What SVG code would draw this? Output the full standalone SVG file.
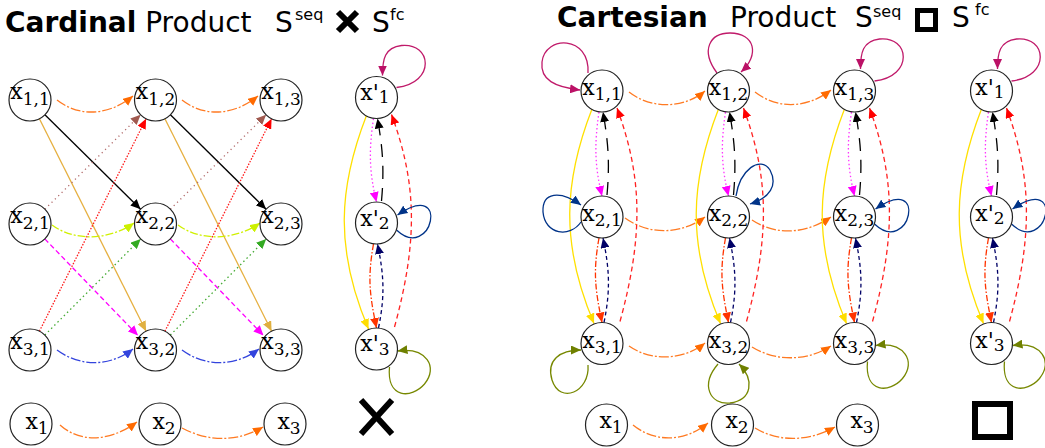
<svg xmlns="http://www.w3.org/2000/svg" width="1045" height="448" viewBox="0 0 1045 448">
<defs>
<style>
.t{font-family:"DejaVu Sans",sans-serif;fill:#000}
.b{font-weight:bold}
.n circle{fill:#fff;stroke:#222;stroke-width:1.2}
.n text{font-family:"DejaVu Serif","Liberation Serif",serif;font-size:22px;fill:#000;text-anchor:middle}
.n tspan.s{font-size:17px}
.e path{fill:none;stroke-width:1.3}
.or{stroke:#ff7a22;stroke-dasharray:10,2,2,2}
.bk{stroke:#000}
.gd{stroke:#e6b040}
.br{stroke:#b06868;stroke-dasharray:1.2,3.5}
.rd{stroke:#ff1a1a;stroke-dasharray:1.5,1.5}
.yg{stroke:#d0f000;stroke-dasharray:8,2,2,2}
.mg{stroke:#ff00ff;stroke-dasharray:5,3}
.gr{stroke:#44aa33;stroke-dasharray:1.5,3}
.bl{stroke:#3344dd;stroke-dasharray:10,2,2,2}
.vr{stroke:#c01a6a}
.ye{stroke:#ffe000}
.md{stroke:#ff33ff;stroke-dasharray:1.5,2.5}
.bd{stroke:#000;stroke-dasharray:13,9}
.rs{stroke:#ff2222;stroke-dasharray:5,3.5}
.nv{stroke:#003388}
.dn{stroke:#000066;stroke-dasharray:4,3}
.od{stroke:#ff3300;stroke-dasharray:6,2,1.5,2}
.ol{stroke:#778800}
</style>
<marker id="a-or" viewBox="0 0 10 9" refX="10" refY="4.5" markerWidth="10" markerHeight="9" markerUnits="userSpaceOnUse" orient="auto"><path d="M0,0L10,4.5L0,9z" fill="#ff6a00"/></marker>
<marker id="a-bk" viewBox="0 0 10 9" refX="10" refY="4.5" markerWidth="10" markerHeight="9" markerUnits="userSpaceOnUse" orient="auto"><path d="M0,0L10,4.5L0,9z" fill="#000"/></marker>
<marker id="a-gd" viewBox="0 0 10 9" refX="10" refY="4.5" markerWidth="10" markerHeight="9" markerUnits="userSpaceOnUse" orient="auto"><path d="M0,0L10,4.5L0,9z" fill="#e0b040"/></marker>
<marker id="a-br" viewBox="0 0 10 9" refX="10" refY="4.5" markerWidth="10" markerHeight="9" markerUnits="userSpaceOnUse" orient="auto"><path d="M0,0L10,4.5L0,9z" fill="#a05a50"/></marker>
<marker id="a-rd" viewBox="0 0 10 9" refX="10" refY="4.5" markerWidth="10" markerHeight="9" markerUnits="userSpaceOnUse" orient="auto"><path d="M0,0L10,4.5L0,9z" fill="#ff0000"/></marker>
<marker id="a-yg" viewBox="0 0 10 9" refX="10" refY="4.5" markerWidth="10" markerHeight="9" markerUnits="userSpaceOnUse" orient="auto"><path d="M0,0L10,4.5L0,9z" fill="#ccf000"/></marker>
<marker id="a-mg" viewBox="0 0 10 9" refX="10" refY="4.5" markerWidth="10" markerHeight="9" markerUnits="userSpaceOnUse" orient="auto"><path d="M0,0L10,4.5L0,9z" fill="#ff00ff"/></marker>
<marker id="a-gr" viewBox="0 0 10 9" refX="10" refY="4.5" markerWidth="10" markerHeight="9" markerUnits="userSpaceOnUse" orient="auto"><path d="M0,0L10,4.5L0,9z" fill="#33aa22"/></marker>
<marker id="a-bl" viewBox="0 0 10 9" refX="10" refY="4.5" markerWidth="10" markerHeight="9" markerUnits="userSpaceOnUse" orient="auto"><path d="M0,0L10,4.5L0,9z" fill="#3344dd"/></marker>
<marker id="a-vr" viewBox="0 0 10 9" refX="10" refY="4.5" markerWidth="10" markerHeight="9" markerUnits="userSpaceOnUse" orient="auto"><path d="M0,0L10,4.5L0,9z" fill="#bb1166"/></marker>
<marker id="a-ye" viewBox="0 0 10 9" refX="10" refY="4.5" markerWidth="10" markerHeight="9" markerUnits="userSpaceOnUse" orient="auto"><path d="M0,0L10,4.5L0,9z" fill="#ffdd00"/></marker>
<marker id="a-nv" viewBox="0 0 10 9" refX="10" refY="4.5" markerWidth="10" markerHeight="9" markerUnits="userSpaceOnUse" orient="auto"><path d="M0,0L10,4.5L0,9z" fill="#003388"/></marker>
<marker id="a-dn" viewBox="0 0 10 9" refX="10" refY="4.5" markerWidth="10" markerHeight="9" markerUnits="userSpaceOnUse" orient="auto"><path d="M0,0L10,4.5L0,9z" fill="#000066"/></marker>
<marker id="a-od" viewBox="0 0 10 9" refX="10" refY="4.5" markerWidth="10" markerHeight="9" markerUnits="userSpaceOnUse" orient="auto"><path d="M0,0L10,4.5L0,9z" fill="#ff3300"/></marker>
<marker id="a-ol" viewBox="0 0 10 9" refX="10" refY="4.5" markerWidth="10" markerHeight="9" markerUnits="userSpaceOnUse" orient="auto"><path d="M0,0L10,4.5L0,9z" fill="#6f8000"/></marker>
</defs>
<rect width="1045" height="448" fill="#fff"/>

<g id="titles">
<text class="t" x="5" y="32" font-size="28"><tspan class="b">Cardinal</tspan> Product</text>
<text class="t" x="275" y="32" font-size="28">S</text>
<text class="t" x="295" y="20" font-size="16">seq</text>
<path d="M338,12L357,31M357,12L338,31" stroke="#000" stroke-width="6"/>
<text class="t" x="372" y="32" font-size="28">S</text>
<text class="t" x="390" y="20" font-size="16">fc</text>
<text class="t b" x="557" y="27" font-size="28">Cartesian</text>
<text class="t" x="730" y="27" font-size="28">Product</text>
<text class="t" x="855" y="27" font-size="28">S</text>
<text class="t" x="873" y="17" font-size="16">seq</text>
<rect x="917.5" y="10.5" width="18" height="19" fill="none" stroke="#000" stroke-width="5"/>
<text class="t" x="952" y="27" font-size="28">S</text>
<text class="t" x="975" y="15" font-size="16">fc</text>
<path d="M361,400L392,434M392,400L361,434" stroke="#000" stroke-width="6"/>
<rect x="975" y="404" width="35" height="33" fill="none" stroke="#000" stroke-width="6"/>
</g>

<g id="connectors" class="e">
<!-- left cardinal grid -->
<path class="or" d="M57,100 C80,118 110,115 133,96" marker-end="url(#a-or)"/>
<path class="or" d="M182,100 C205,118 235,115 258,96" marker-end="url(#a-or)"/>
<path class="bk" d="M44.9,114.8 L140.6,209.2" marker-end="url(#a-bk)"/>
<path class="bk" d="M170.4,114.8 L266.1,209.2" marker-end="url(#a-bk)"/>
<path class="gd" d="M39.4,118.8 L146.1,331.2" marker-end="url(#a-gd)"/>
<path class="gd" d="M164.9,118.8 L271.6,331.2" marker-end="url(#a-gd)"/>
<path class="br" d="M44.9,209.2 L140.6,114.8" marker-end="url(#a-br)"/>
<path class="br" d="M170.4,209.2 L266.1,114.8" marker-end="url(#a-br)"/>
<path class="rd" d="M39.4,331.2 L146.1,118.8" marker-end="url(#a-rd)"/>
<path class="rd" d="M164.9,331.2 L271.6,118.8" marker-end="url(#a-rd)"/>
<path class="mg" d="M44.8,238.9 L138,335.5" marker-end="url(#a-mg)"/>
<path class="mg" d="M170.3,238.9 L263.5,335.5" marker-end="url(#a-mg)"/>
<path class="gr" d="M44.8,335.1 L140.7,238.9" marker-end="url(#a-gr)"/>
<path class="gr" d="M170.3,335.1 L266.2,238.9" marker-end="url(#a-gr)"/>
<path class="yg" d="M52,225 C75,242 110,240 134,223" marker-end="url(#a-yg)"/>
<path class="yg" d="M178,225 C201,242 236,240 260,223" marker-end="url(#a-yg)"/>
<path class="bl" d="M57,350 C80,367 110,367 133,349" marker-end="url(#a-bl)"/>
<path class="bl" d="M182,350 C205,367 235,367 259,349" marker-end="url(#a-bl)"/>
<path class="or" d="M60,425 C80,443 110,442 137,422" marker-end="url(#a-or)"/>
<path class="or" d="M182,428 C210,443 240,441 263,427" marker-end="url(#a-or)"/>

<!-- left S^fc column -->
<path class="ye" d="M366.5,115.5 C338.5,187.5 334.5,249 368.5,329" marker-end="url(#a-ye)"/>
<path class="md" d="M373.5,118.5 C368.5,152.5 369.5,173 376.5,202" marker-end="url(#a-mg)"/>
<path class="bd" d="M381.5,201 C384.5,168 382.5,147.5 377.5,118.5" marker-end="url(#a-bk)"/>
<path class="rs" d="M394.5,327 C418.5,239 416.5,182.5 391.5,114.5" marker-end="url(#a-rd)"/>
<path class="dn" d="M378.5,328 C385.5,294 383.5,273 377.5,244" marker-end="url(#a-dn)"/>
<path class="od" d="M373.5,244 C367.5,278 369.5,294 376.5,328" marker-end="url(#a-od)"/>
<path class="vr" d="M396.5,87.5 C436.5,82.5 431.5,42.5 401.5,45.5 C384.5,47.5 382.5,59.5 382.5,75.5" marker-end="url(#a-vr)"/>
<path class="nv" d="M396.5,230 C431.5,263 451.5,178 397.5,215" marker-end="url(#a-nv)"/>
<path class="ol" d="M389.5,367 C386.5,399 411.5,399 424.5,384 C438.5,367 426.5,347 397.5,351" marker-end="url(#a-ol)"/>

<!-- right cartesian: horizontals -->
<path class="or" d="M629,92 C652,110 685,108 705,91" marker-end="url(#a-or)"/>
<path class="or" d="M755,92 C778,110 808,108 831,90" marker-end="url(#a-or)"/>
<path class="or" d="M625,218 C650,236 682,234 705,217" marker-end="url(#a-or)"/>
<path class="or" d="M752,220 C776,236 806,234 831,217" marker-end="url(#a-or)"/>
<path class="or" d="M629,346 C652,362 684,360 705,343" marker-end="url(#a-or)"/>
<path class="or" d="M752,347 C776,362 808,361 831,346" marker-end="url(#a-or)"/>
<path class="or" d="M633,425 C655,443 685,442 708,423" marker-end="url(#a-or)"/>
<path class="or" d="M755,428 C780,443 810,441 835,427" marker-end="url(#a-or)"/>

<!-- col 1 -->
<path class="ye" d="M592,109 C564,181 560,243.5 594,323.5" marker-end="url(#a-ye)"/>
<path class="md" d="M599,112 C594,146 595,167 602,196" marker-end="url(#a-mg)"/>
<path class="bd" d="M607,195 C610,162 608,141 603,112" marker-end="url(#a-bk)"/>
<path class="rs" d="M620,321.5 C644,233.5 642,176 617,108" marker-end="url(#a-rd)"/>
<path class="dn" d="M604,322.5 C611,288.5 609,267 603,238" marker-end="url(#a-dn)"/>
<path class="od" d="M599,238 C593,272 595,288.5 602,322.5" marker-end="url(#a-od)"/>
<path class="vr" d="M588,73 C590,35 545,35 542,62 C540,80 555,87 580,90" marker-end="url(#a-vr)"/>
<path class="nv" d="M581,222 C570,238 545,235 543,212 C542,192 560,190 581,205" marker-end="url(#a-nv)"/>
<path class="ol" d="M588,365 C590,392 560,405 552,380 C546,360 560,350 581,350" marker-end="url(#a-ol)"/>

<!-- col 2 -->
<path class="ye" d="M718.5,109 C690.5,181 686.5,243.5 720.5,323.5" marker-end="url(#a-ye)"/>
<path class="md" d="M725.5,112 C720.5,146 721.5,167 728.5,196" marker-end="url(#a-mg)"/>
<path class="bd" d="M733.5,195 C736.5,162 734.5,141 729.5,112" marker-end="url(#a-bk)"/>
<path class="rs" d="M746.5,321.5 C770.5,233.5 768.5,176 743.5,108" marker-end="url(#a-rd)"/>
<path class="dn" d="M730.5,322.5 C737.5,288.5 735.5,267 729.5,238" marker-end="url(#a-dn)"/>
<path class="od" d="M725.5,238 C719.5,272 721.5,288.5 728.5,322.5" marker-end="url(#a-od)"/>
<path class="vr" d="M717,73 C700,50 710,33 730,33 C755,33 760,55 741,72" marker-end="url(#a-vr)"/>
<path class="nv" d="M736,196 C740,170 760,155 770,170 C778,185 770,198 750,204" marker-end="url(#a-nv)"/>
<path class="ol" d="M718,364 C700,385 710,405 730,403 C752,400 755,380 739,364" marker-end="url(#a-ol)"/>

<!-- col 3 -->
<path class="ye" d="M844.5,109 C816.5,181 812.5,243.5 846.5,323.5" marker-end="url(#a-ye)"/>
<path class="md" d="M851.5,112 C846.5,146 847.5,167 854.5,196" marker-end="url(#a-mg)"/>
<path class="bd" d="M859.5,195 C862.5,162 860.5,141 855.5,112" marker-end="url(#a-bk)"/>
<path class="rs" d="M872.5,321.5 C896.5,233.5 894.5,176 869.5,108" marker-end="url(#a-rd)"/>
<path class="dn" d="M856.5,322.5 C863.5,288.5 861.5,267 855.5,238" marker-end="url(#a-dn)"/>
<path class="od" d="M851.5,238 C845.5,272 847.5,288.5 854.5,322.5" marker-end="url(#a-od)"/>
<path class="vr" d="M874.5,81 C914.5,76 909.5,36 879.5,39 C862.5,41 860.5,53 860.5,69" marker-end="url(#a-vr)"/>
<path class="nv" d="M874.5,224 C909.5,257 929.5,172 875.5,209" marker-end="url(#a-nv)"/>
<path class="ol" d="M867.5,361.5 C864.5,393.5 889.5,393.5 902.5,378.5 C916.5,361.5 904.5,341.5 875.5,345.5" marker-end="url(#a-ol)"/>

<!-- right S^fc column -->
<path class="ye" d="M981.5,109 C953.5,181 949.5,243.5 983.5,323.5" marker-end="url(#a-ye)"/>
<path class="md" d="M988.5,112 C983.5,146 984.5,167 991.5,196" marker-end="url(#a-mg)"/>
<path class="bd" d="M996.5,195 C999.5,162 997.5,141 992.5,112" marker-end="url(#a-bk)"/>
<path class="rs" d="M1009.5,321.5 C1033.5,233.5 1031.5,176 1006.5,108" marker-end="url(#a-rd)"/>
<path class="dn" d="M993.5,322.5 C1000.5,288.5 998.5,267 992.5,238" marker-end="url(#a-dn)"/>
<path class="od" d="M988.5,238 C982.5,272 984.5,288.5 991.5,322.5" marker-end="url(#a-od)"/>
<path class="vr" d="M1011.5,81 C1051.5,76 1046.5,36 1016.5,39 C999.5,41 997.5,53 997.5,69" marker-end="url(#a-vr)"/>
<path class="nv" d="M1011.5,224 C1046.5,257 1066.5,172 1012.5,209" marker-end="url(#a-nv)"/>
<path class="ol" d="M1004.5,361.5 C1001.5,393.5 1026.5,393.5 1039.5,378.5 C1053.5,361.5 1041.5,341.5 1012.5,345.5" marker-end="url(#a-ol)"/>
</g>

<!-- left grid nodes -->
<g id="L11" class="n"><circle cx="30" cy="100" r="21"/><text x="30" y="99">x<tspan class="s" dy="6">1,1</tspan></text></g>
<g id="L12" class="n"><circle cx="155.5" cy="100" r="21"/><text x="155.5" y="99">x<tspan class="s" dy="6">1,2</tspan></text></g>
<g id="L13" class="n"><circle cx="281" cy="100" r="21"/><text x="281" y="99">x<tspan class="s" dy="6">1,3</tspan></text></g>
<g id="L21" class="n"><circle cx="30" cy="224" r="21"/><text x="30" y="223">x<tspan class="s" dy="6">2,1</tspan></text></g>
<g id="L22" class="n"><circle cx="155.5" cy="224" r="21"/><text x="155.5" y="223">x<tspan class="s" dy="6">2,2</tspan></text></g>
<g id="L23" class="n"><circle cx="281" cy="224" r="21"/><text x="281" y="223">x<tspan class="s" dy="6">2,3</tspan></text></g>
<g id="L31" class="n"><circle cx="30" cy="350" r="21"/><text x="30" y="349">x<tspan class="s" dy="6">3,1</tspan></text></g>
<g id="L32" class="n"><circle cx="155.5" cy="350" r="21"/><text x="155.5" y="349">x<tspan class="s" dy="6">3,2</tspan></text></g>
<g id="L33" class="n"><circle cx="281" cy="350" r="21"/><text x="281" y="349">x<tspan class="s" dy="6">3,3</tspan></text></g>
<g id="L1" class="n"><circle cx="31" cy="424" r="21"/><text x="37" y="429">x<tspan class="s" dy="5">1</tspan></text></g>
<g id="L2" class="n"><circle cx="160" cy="424" r="21"/><text x="164" y="429">x<tspan class="s" dy="5">2</tspan></text></g>
<g id="L3" class="n"><circle cx="285" cy="424" r="21"/><text x="289" y="429">x<tspan class="s" dy="5">3</tspan></text></g>
<g id="LP1" class="n"><circle cx="376.5" cy="97.5" r="21"/><text x="375" y="100">x'<tspan class="s" dy="3">1</tspan></text></g>
<g id="LP2" class="n"><circle cx="376.5" cy="223" r="21"/><text x="375" y="226">x'<tspan class="s" dy="3">2</tspan></text></g>
<g id="LP3" class="n"><circle cx="376.5" cy="349" r="21"/><text x="375" y="351">x'<tspan class="s" dy="4">3</tspan></text></g>

<!-- right grid nodes -->
<g id="R11" class="n"><circle cx="602" cy="91" r="21"/><text x="602" y="95">x<tspan class="s" dy="5">1,1</tspan></text></g>
<g id="R12" class="n"><circle cx="728.5" cy="91" r="21"/><text x="728.5" y="95">x<tspan class="s" dy="5">1,2</tspan></text></g>
<g id="R13" class="n"><circle cx="854.5" cy="91" r="21"/><text x="854.5" y="95">x<tspan class="s" dy="5">1,3</tspan></text></g>
<g id="R21" class="n"><circle cx="602" cy="217" r="21"/><text x="602" y="221">x<tspan class="s" dy="5">2,1</tspan></text></g>
<g id="R22" class="n"><circle cx="728.5" cy="217" r="21"/><text x="728.5" y="221">x<tspan class="s" dy="5">2,2</tspan></text></g>
<g id="R23" class="n"><circle cx="854.5" cy="217" r="21"/><text x="854.5" y="221">x<tspan class="s" dy="5">2,3</tspan></text></g>
<g id="R31" class="n"><circle cx="602" cy="343.5" r="21"/><text x="602" y="347.5">x<tspan class="s" dy="5">3,1</tspan></text></g>
<g id="R32" class="n"><circle cx="728.5" cy="343.5" r="21"/><text x="728.5" y="347.5">x<tspan class="s" dy="5">3,2</tspan></text></g>
<g id="R33" class="n"><circle cx="854.5" cy="343.5" r="21"/><text x="854.5" y="347.5">x<tspan class="s" dy="5">3,3</tspan></text></g>
<g id="R1" class="n"><circle cx="606.5" cy="425" r="21"/><text x="611" y="428">x<tspan class="s" dy="5">1</tspan></text></g>
<g id="R2" class="n"><circle cx="732.5" cy="425" r="21"/><text x="737" y="428">x<tspan class="s" dy="5">2</tspan></text></g>
<g id="R3" class="n"><circle cx="857.5" cy="425" r="21"/><text x="862" y="428">x<tspan class="s" dy="5">3</tspan></text></g>
<g id="RP1" class="n"><circle cx="991.5" cy="91" r="21"/><text x="990" y="95">x'<tspan class="s" dy="3">1</tspan></text></g>
<g id="RP2" class="n"><circle cx="991.5" cy="217" r="21"/><text x="990" y="221">x'<tspan class="s" dy="3">2</tspan></text></g>
<g id="RP3" class="n"><circle cx="991.5" cy="343.5" r="21"/><text x="990" y="347.5">x'<tspan class="s" dy="3">3</tspan></text></g>
</svg>
